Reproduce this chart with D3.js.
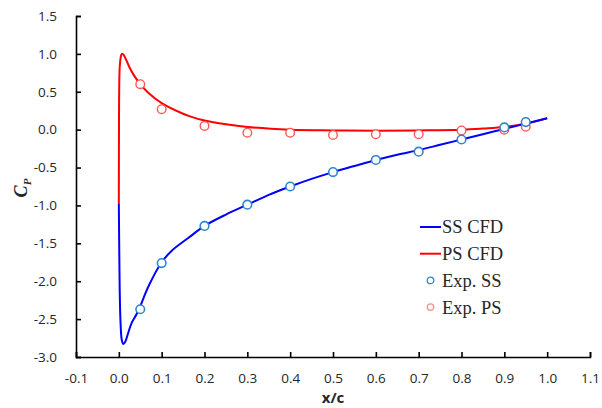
<!DOCTYPE html>
<html>
<head>
<meta charset="utf-8">
<script src="https://cdn.jsdelivr.net/npm/d3@7"></script>
<style>
  body { margin: 0; background: #fff; }
  svg text { fill: #262626; }
</style>
</head>
<body>
<div id="chart"></div>
<script>
// CFD curves (x/c, Cp)
var ssCfdX = [0, 0.001, 0.002, 0.004, 0.007, 0.0106, 0.015, 0.022, 0.03, 0.04, 0.05, 0.069, 0.1, 0.123, 0.162, 0.2, 0.25, 0.3, 0.35, 0.4, 0.45, 0.5, 0.55, 0.6, 0.65, 0.7, 0.75, 0.8, 0.85, 0.9, 0.95, 1.0];
var ssCfdY = [-0.98, -1.6, -2.1, -2.55, -2.78, -2.83, -2.8, -2.68, -2.55, -2.45, -2.33, -2.07, -1.75, -1.6, -1.43, -1.27, -1.12, -0.99, -0.86, -0.75, -0.65, -0.56, -0.48, -0.4, -0.33, -0.27, -0.2, -0.13, -0.06, 0.01, 0.08, 0.15];
var psCfdX = [0, 0.0005, 0.001, 0.002, 0.004, 0.006, 0.009, 0.013, 0.018, 0.025, 0.035, 0.05, 0.07, 0.1, 0.15, 0.166, 0.2, 0.25, 0.3, 0.4, 0.5, 0.6, 0.7, 0.8, 0.85, 0.9, 0.95, 1.0];
var psCfdY = [-0.98, 0.3, 0.6, 0.82, 0.94, 0.99, 1.0, 0.97, 0.91, 0.82, 0.72, 0.6, 0.48, 0.35, 0.21, 0.176, 0.12, 0.07, 0.035, 0.0, -0.01, -0.015, -0.01, 0.0, 0.015, 0.035, 0.08, 0.15];

// experimental points
var expX = [0.05, 0.1, 0.2, 0.3, 0.4, 0.5, 0.6, 0.7, 0.8, 0.9, 0.95];
var expSS = [-2.37, -1.76, -1.27, -0.99, -0.75, -0.56, -0.40, -0.29, -0.13, 0.03, 0.10];
var expPS = [0.60, 0.27, 0.05, -0.04, -0.04, -0.07, -0.06, -0.06, -0.01, 0.00, 0.04];

var xTicks = [-0.1, 0, 0.1, 0.2, 0.3, 0.4, 0.5, 0.6, 0.7, 0.8, 0.9, 1.0, 1.1];
var yTicks = [-3.0, -2.5, -2.0, -1.5, -1.0, -0.5, 0.0, 0.5, 1.0, 1.5];

var legendNames = ["SS CFD", "PS CFD", "Exp. SS", "Exp. PS"];

var width = 602, height = 408;
var margin = {top: 16, right: 12, bottom: 51, left: 76};

var svg = d3.select("#chart").append("svg")
  .attr("width", width)
  .attr("height", height);

var x = d3.scaleLinear().domain([-0.1, 1.1]).range([margin.left, width - margin.right]);
var y = d3.scaleLinear().domain([-3.0, 1.5]).range([height - margin.bottom, margin.top]);

// plain hyphen for negatives, like the original
var fmt = d => d.toFixed(1);

// axes, ticks pointing inside
var xAxis = d3.axisBottom(x).tickValues(xTicks).tickFormat(fmt)
  .tickSizeInner(-5).tickSizeOuter(-5).tickPadding(16);
var yAxis = d3.axisLeft(y).tickValues(yTicks).tickFormat(fmt)
  .tickSizeInner(-5).tickSizeOuter(-5).tickPadding(17);

var gx = svg.append("g")
  .attr("transform", `translate(0,${height - margin.bottom})`)
  .call(xAxis);
var gy = svg.append("g")
  .attr("transform", `translate(${margin.left},0)`)
  .call(yAxis);

[gx, gy].forEach(function(g) {
  g.select(".domain").attr("stroke", "#000").attr("stroke-width", 1.6);
  g.selectAll(".tick line").attr("stroke", "#000").attr("stroke-width", 1.6);
  g.selectAll(".tick text")
    .style("font-family", "'Open Sans', sans-serif")
    .style("font-size", "13.5px")
    .attr("fill", "#262626");
});
gx.selectAll(".tick text").attr("dy", "0.32em").attr("y", 22);
gy.selectAll(".tick text").attr("x", -19);

// axis titles
svg.append("text")
  .attr("x", x(0.5)).attr("y", 399)
  .attr("text-anchor", "middle").attr("dominant-baseline", "middle")
  .style("font-family", "'Open Sans', sans-serif")
  .style("font-size", "15px").style("font-weight", "bold")
  .text("x/c");

var cp = svg.append("text")
  .attr("transform", "translate(27,188) rotate(-90)")
  .attr("text-anchor", "middle")
  .style("font-family", "'Liberation Serif', serif")
  .style("font-size", "18px").style("font-weight", "bold").style("font-style", "italic");
cp.append("tspan").text("C");
cp.append("tspan").attr("dy", 4).style("font-size", "11px").text("P");

// curves
var cfdLine = d3.line().curve(d3.curveCatmullRom.alpha(0.5))
  .x(d => x(d[0])).y(d => y(d[1]));

svg.append("path")
  .datum(psCfdX.map((v, i) => [v, psCfdY[i]]))
  .attr("fill", "none").attr("stroke", "#ff0000").attr("stroke-width", 2)
  .attr("d", cfdLine);

svg.append("path")
  .datum(ssCfdX.map((v, i) => [v, ssCfdY[i]]))
  .attr("fill", "none").attr("stroke", "#0000ff").attr("stroke-width", 2)
  .attr("d", cfdLine);

// experimental markers
svg.append("g").selectAll("circle")
  .data(expX.map((v, i) => [v, expPS[i]]))
  .join("circle")
  .attr("cx", d => x(d[0])).attr("cy", d => y(d[1])).attr("r", 4.3)
  .attr("fill", "#fff").attr("stroke", "#ff5555").attr("stroke-width", 1.4);

svg.append("g").selectAll("circle")
  .data(expX.map((v, i) => [v, expSS[i]]))
  .join("circle")
  .attr("cx", d => x(d[0])).attr("cy", d => y(d[1])).attr("r", 4.3)
  .attr("fill", "#fff").attr("stroke", "#2e86cf").attr("stroke-width", 1.6);

// legend
var legColors = ["#0000ff", "#ff0000", "#2e86cf", "#ff8a8a"];
var leg = svg.append("g").attr("transform", "translate(420,227)");
legendNames.forEach(function(name, i) {
  var row = leg.append("g").attr("transform", `translate(0,${i * 26.7})`);
  if (i < 2) {
    row.append("line").attr("x1", 0).attr("x2", 21).attr("y1", 0).attr("y2", 0)
      .attr("stroke", legColors[i]).attr("stroke-width", 2);
  } else {
    row.append("circle").attr("cx", 10.5).attr("cy", 0).attr("r", 3.3)
      .attr("fill", "#fff").attr("stroke", legColors[i]).attr("stroke-width", 1.3);
  }
  row.append("text").attr("x", 22).attr("y", 0).attr("dy", "0.35em")
    .style("font-family", "'Liberation Serif', serif")
    .style("font-size", "18.5px")
    .attr("fill", "#262626")
    .text(name);
});
</script>
</body>
</html>
